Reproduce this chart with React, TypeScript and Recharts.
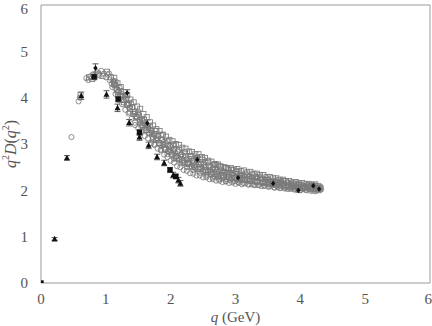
import React from 'react';
import { ScatterChart, Scatter, XAxis, YAxis, ErrorBar } from 'recharts';

const xTicks = [0, 1, 2, 3, 4, 5, 6];
const yTicks = [0, 1, 2, 3, 4, 5, 6];

// lattice data, open circles [q, q^2 D]
const openCircles: [number, number][] = [
  [0.47, 3.15], [0.58, 3.92], [0.6, 4.0], [0.73, 4.38], [0.76, 4.46], [0.8, 4.5], [0.86, 4.55], [0.9, 4.48],
  [0.93, 4.58], [0.97, 4.52], [1.0, 4.44], [1.03, 4.5], [1.06, 4.38], [1.09, 4.3], [1.12, 4.34], [1.15, 4.2],
  [1.18, 4.12], [1.21, 4.22], [1.24, 4.02], [1.27, 3.95], [1.3, 4.05], [1.33, 3.85], [1.36, 3.78], [1.39, 3.88],
  [1.45, 3.41], [1.45, 3.7], [1.48, 3.58], [1.51, 3.62], [1.54, 3.45], [1.57, 3.5], [1.6, 3.35], [1.63, 3.42],
  [1.66, 3.25], [1.69, 3.3], [1.72, 3.15], [1.75, 3.22], [1.78, 3.08], [1.81, 3.18], [1.84, 2.98], [1.87, 3.1],
  [1.9, 2.92], [1.93, 3.02], [1.96, 2.85], [1.99, 2.96], [2.02, 2.78], [2.05, 2.9], [2.08, 2.72], [2.11, 2.84],
  [2.14, 2.66], [2.17, 2.78], [2.2, 2.6], [2.23, 2.74], [2.26, 2.56], [2.29, 2.68], [2.32, 2.52], [2.35, 2.64],
  [2.38, 2.48], [2.41, 2.72], [2.44, 2.45], [2.47, 2.58], [2.5, 2.4], [2.53, 2.62], [2.56, 2.36], [2.59, 2.52],
  [2.62, 2.34], [2.65, 2.48], [2.68, 2.3], [2.71, 2.56], [2.74, 2.28], [2.77, 2.44], [2.8, 2.26], [2.83, 2.4],
  [2.86, 2.24], [2.89, 2.46], [2.92, 2.22], [2.95, 2.36], [2.98, 2.2], [3.01, 2.42], [3.04, 2.18], [3.08, 2.32],
  [3.12, 2.16], [3.16, 2.36], [3.2, 2.14], [3.24, 2.28], [3.28, 2.12], [3.32, 2.3], [3.36, 2.11], [3.4, 2.24],
  [3.44, 2.1], [3.48, 2.26], [3.52, 2.08], [3.56, 2.2], [3.6, 2.06], [3.64, 2.22], [3.68, 2.05], [3.72, 2.16],
  [3.76, 2.04], [3.8, 2.18], [3.84, 2.03], [3.88, 2.12], [3.92, 2.02], [3.96, 2.14], [4.0, 2.0], [4.04, 2.1],
  [4.08, 2.01], [4.12, 2.12], [4.16, 1.99], [4.2, 2.08], [4.24, 1.98], [4.28, 2.06], [4.32, 2.02],
];

const bandCircles: [number, number][] = [
  [1.1, 4.23], [1.11, 4.37], [1.15, 4.08], [1.16, 4.26], [1.2, 3.95], [1.19, 4.14], [1.25, 3.86], [1.26, 4.04],
  [1.3, 3.74], [1.31, 3.96], [1.35, 3.66], [1.34, 3.86], [1.4, 3.55], [1.41, 3.79], [1.45, 3.46], [1.44, 3.69],
  [1.5, 3.34], [1.51, 3.63], [1.55, 3.28], [1.56, 3.52], [1.6, 3.17], [1.59, 3.45], [1.65, 3.12], [1.66, 3.35],
  [1.7, 3.02], [1.71, 3.28], [1.75, 2.98], [1.74, 3.2], [1.8, 2.9], [1.81, 3.16], [1.85, 2.86], [1.86, 3.08],
  [1.9, 2.77], [1.89, 3.04], [1.95, 2.72], [1.96, 2.96], [2.0, 2.64], [2.01, 2.93], [2.05, 2.6], [2.04, 2.86],
  [2.1, 2.52], [2.11, 2.84], [2.15, 2.5], [2.16, 2.77], [2.2, 2.44], [2.19, 2.75], [2.25, 2.42], [2.26, 2.69],
  [2.3, 2.37], [2.31, 2.68], [2.35, 2.36], [2.34, 2.63], [2.4, 2.32], [2.41, 2.63], [2.45, 2.32], [2.46, 2.58],
  [2.5, 2.28], [2.51, 2.57], [2.55, 2.28], [2.54, 2.51], [2.6, 2.24], [2.61, 2.5], [2.65, 2.24], [2.66, 2.45],
  [2.7, 2.21], [2.71, 2.45], [2.75, 2.21], [2.74, 2.4], [2.8, 2.18], [2.81, 2.4], [2.85, 2.19], [2.86, 2.37],
  [2.9, 2.16], [2.91, 2.38], [2.95, 2.17], [2.94, 2.35], [3.0, 2.14], [3.01, 2.36], [3.05, 2.16], [3.06, 2.33],
  [3.1, 2.13], [3.11, 2.34], [3.15, 2.15], [3.14, 2.3], [3.2, 2.12], [3.21, 2.31], [3.25, 2.13], [3.26, 2.28],
  [3.3, 2.11], [3.31, 2.29], [3.35, 2.12], [3.34, 2.26], [3.4, 2.09], [3.41, 2.26], [3.45, 2.1], [3.46, 2.23],
  [3.5, 2.08], [3.51, 2.23], [3.55, 2.09], [3.54, 2.2], [3.6, 2.06], [3.61, 2.2], [3.65, 2.07], [3.66, 2.17],
  [3.7, 2.05], [3.71, 2.18], [3.75, 2.06], [3.74, 2.15], [3.8, 2.03], [3.81, 2.15], [3.85, 2.05], [3.86, 2.13],
  [3.9, 2.02], [3.91, 2.14], [3.95, 2.04], [3.94, 2.11], [4.0, 2.01], [4.01, 2.12], [4.05, 2.03], [4.06, 2.09],
  [4.1, 2.0], [4.11, 2.1], [4.15, 2.02], [4.14, 2.08], [4.2, 1.99], [4.21, 2.09], [4.25, 2.01], [4.26, 2.06],
  [4.3, 2.0], [4.31, 2.07],
];

const midCircles: [number, number][] = [
  [0.7, 4.42], [0.83, 4.43], [1.05, 4.52], [1.15, 4.35], [1.25, 4.08], [1.35, 3.88], [1.44, 3.65], [1.53, 3.52],
  [1.62, 3.38], [1.71, 3.22], [1.75, 3.0], [1.8, 3.12], [1.85, 2.88], [1.89, 3.0], [1.95, 2.78], [1.98, 2.9],
  [2.05, 2.68], [2.07, 2.82], [2.15, 2.58], [2.16, 2.72], [2.25, 2.5], [2.25, 2.66], [2.34, 2.58], [2.35, 2.44],
  [2.43, 2.56], [2.45, 2.38], [2.52, 2.5], [2.55, 2.32], [2.61, 2.44], [2.65, 2.28], [2.7, 2.4], [2.75, 2.24],
  [2.79, 2.38], [2.85, 2.2], [2.88, 2.34], [2.95, 2.26], [2.97, 2.32], [3.05, 2.22], [3.06, 2.28], [3.15, 2.24],
  [3.24, 2.2], [3.33, 2.26], [3.42, 2.16], [3.51, 2.14], [3.6, 2.12], [3.69, 2.18], [3.78, 2.08], [3.87, 2.06],
  [3.96, 2.06], [4.05, 2.04], [4.14, 2.06], [4.23, 2.03],
];

const openSquares: [number, number][] = [
  [0.61, 4.06], [0.74, 4.44], [0.79, 4.4], [0.88, 4.52], [0.95, 4.47], [1.02, 4.56], [1.08, 4.44], [1.14, 4.28],
  [1.19, 4.05], [1.23, 4.14], [1.28, 3.9], [1.32, 3.96], [1.37, 3.7], [1.41, 3.8], [1.46, 3.6], [1.5, 3.68],
  [1.55, 3.4], [1.59, 3.52], [1.64, 3.3], [1.68, 3.38], [1.73, 3.1], [1.77, 3.28], [1.82, 3.02], [1.86, 3.2],
  [1.91, 2.88], [1.95, 3.06], [2.0, 2.82], [2.04, 2.98], [2.09, 2.7], [2.13, 2.88], [2.18, 2.62], [2.22, 2.82],
  [2.27, 2.6], [2.31, 2.74], [2.36, 2.54], [2.4, 2.7], [2.45, 2.5], [2.49, 2.66], [2.54, 2.44], [2.58, 2.6],
  [2.63, 2.4], [2.67, 2.55], [2.72, 2.36], [2.76, 2.52], [2.81, 2.33], [2.85, 2.48], [2.9, 2.3], [2.94, 2.44],
  [2.99, 2.28], [3.03, 2.4], [3.1, 2.26], [3.14, 2.3], [3.21, 2.24], [3.26, 2.34], [3.33, 2.2], [3.38, 2.28],
  [3.45, 2.18], [3.5, 2.22], [3.57, 2.14], [3.62, 2.18], [3.69, 2.12], [3.74, 2.2], [3.81, 2.1], [3.86, 2.15],
  [3.93, 2.08], [3.98, 2.12], [4.05, 2.06], [4.1, 2.08], [4.17, 2.04], [4.22, 2.1], [4.27, 2.02], [4.31, 2.06],
];

const bandSquares: [number, number][] = [
  [1.125, 4.29], [1.13, 4.43], [1.175, 4.17], [1.18, 4.31], [1.225, 4.03], [1.23, 4.23], [1.275, 3.95], [1.28, 4.12],
  [1.325, 3.84], [1.33, 4.06], [1.375, 3.76], [1.38, 3.96], [1.425, 3.65], [1.43, 3.9], [1.475, 3.58], [1.48, 3.81],
  [1.525, 3.47], [1.53, 3.76], [1.575, 3.41], [1.58, 3.65], [1.625, 3.3], [1.63, 3.58], [1.675, 3.24], [1.68, 3.47],
  [1.725, 3.14], [1.73, 3.4], [1.775, 3.1], [1.78, 3.32], [1.825, 3.02], [1.83, 3.28], [1.875, 2.98], [1.88, 3.2],
  [1.925, 2.89], [1.93, 3.16], [1.975, 2.85], [1.98, 3.09], [2.025, 2.77], [2.03, 3.06], [2.075, 2.74], [2.08, 3.0],
  [2.125, 2.67], [2.13, 2.98], [2.175, 2.65], [2.18, 2.92], [2.225, 2.59], [2.23, 2.9], [2.275, 2.57], [2.28, 2.84],
  [2.325, 2.51], [2.33, 2.83], [2.375, 2.5], [2.38, 2.78], [2.425, 2.46], [2.43, 2.78], [2.475, 2.46], [2.48, 2.72],
  [2.525, 2.41], [2.53, 2.7], [2.575, 2.4], [2.58, 2.64], [2.625, 2.36], [2.63, 2.62], [2.675, 2.35], [2.68, 2.57],
  [2.725, 2.32], [2.73, 2.56], [2.775, 2.31], [2.78, 2.51], [2.825, 2.28], [2.83, 2.5], [2.875, 2.29], [2.88, 2.47],
  [2.925, 2.26], [2.93, 2.48], [2.975, 2.27], [2.98, 2.45], [3.025, 2.24], [3.03, 2.46], [3.075, 2.25], [3.08, 2.42],
  [3.125, 2.22], [3.13, 2.43], [3.175, 2.23], [3.18, 2.39], [3.225, 2.2], [3.23, 2.4], [3.275, 2.21], [3.28, 2.36],
  [3.325, 2.18], [3.33, 2.36], [3.375, 2.19], [3.38, 2.33], [3.425, 2.16], [3.43, 2.33], [3.475, 2.17], [3.48, 2.29],
  [3.525, 2.14], [3.53, 2.29], [3.575, 2.15], [3.58, 2.26], [3.625, 2.12], [3.63, 2.26], [3.675, 2.13], [3.68, 2.23],
  [3.725, 2.1], [3.73, 2.23], [3.775, 2.11], [3.78, 2.2], [3.825, 2.08], [3.83, 2.2], [3.875, 2.09], [3.88, 2.17],
  [3.925, 2.06], [3.93, 2.18], [3.975, 2.08], [3.98, 2.15], [4.025, 2.05], [4.03, 2.16], [4.075, 2.07], [4.08, 2.13],
  [4.125, 2.04], [4.13, 2.14], [4.175, 2.06], [4.18, 2.12], [4.225, 2.03], [4.23, 2.13], [4.275, 2.05], [4.28, 2.09],
];

// [q, value, error]
const filledTriangles: [number, number, number][] = [
  [0.21, 0.95, 0.03], [0.4, 2.7, 0.05], [0.62, 4.04, 0.08], [1.01, 4.07, 0.08], [1.18, 3.78, 0.08],
  [1.36, 3.46, 0.07], [1.52, 3.15, 0.07], [1.66, 2.97, 0.07], [1.79, 2.72, 0.06], [1.9, 2.59, 0.06],
  [2.04, 2.33, 0.06], [2.12, 2.22, 0.06], [2.15, 2.15, 0.06],
];

const filledSquares: [number, number, number][] = [
  [0.0, 0.0, 0.0], [0.82, 4.45, 0.06], [1.19, 3.97, 0.06], [1.52, 3.25, 0.06], [1.99, 2.44, 0.05], [2.08, 2.3, 0.05],
];

const filledDiamonds: [number, number, number][] = [
  [0.84, 4.64, 0.09], [1.33, 4.1, 0.07], [1.64, 3.45, 0.07], [2.41, 2.66, 0.05], [3.04, 2.27, 0.05],
  [3.58, 2.15, 0.04], [3.97, 2.0, 0.04], [4.2, 2.1, 0.04], [4.29, 2.03, 0.04],
];

const rows = (a: number[][]) => a.map(([q, v, e]) => ({ q, v, e: e ?? 0 }));

const GRAY = '#7a7a7a';
const AXIS = '#9a9a9a';
const TEXT = '#555555';
const FONT = '"Liberation Serif", "DejaVu Serif", "Noto Serif", serif';

const OpenCircle = (p: any) => (
  <circle cx={p.cx} cy={p.cy} r={2.6} fill="none" stroke={GRAY} strokeWidth={0.85} />
);
const OpenSquare = (p: any) => (
  <rect x={p.cx - 2.5} y={p.cy - 2.5} width={5} height={5} fill="none" stroke={GRAY} strokeWidth={0.85} />
);
const Triangle = (p: any) => (
  <polygon points={`${p.cx},${p.cy - 3.2} ${p.cx - 3},${p.cy + 2.4} ${p.cx + 3},${p.cy + 2.4}`} fill="#111" />
);
const FSquare = (p: any) => (
  <rect x={p.cx - 2.7} y={p.cy - 2.7} width={5.4} height={5.4} fill="#111" />
);
const Diamond = (p: any) => (
  <polygon points={`${p.cx},${p.cy - 2.8} ${p.cx + 2.2},${p.cy} ${p.cx},${p.cy + 2.8} ${p.cx - 2.2},${p.cy}`} fill="#111" />
);

const XLabel = (props: any) => {
  const vb = props.viewBox;
  return (
    <text x={vb.x + vb.width / 2} y={vb.y + vb.height - 4} textAnchor="middle" fill={TEXT} fontSize={15}
      style={{ fontFamily: FONT }}>
      <tspan fontStyle="italic">q</tspan>
      <tspan> (GeV)</tspan>
    </text>
  );
};

const YLabel = (props: any) => {
  const vb = props.viewBox;
  const x = 16;
  const y = vb.y + vb.height / 2;
  return (
    <text x={x} y={y} transform={`rotate(-90 ${x} ${y})`} textAnchor="middle" fill={TEXT} fontSize={16}
      style={{ fontFamily: FONT }}>
      <tspan fontStyle="italic">q</tspan>
      <tspan fontSize={10} dy={-7}>2</tspan>
      <tspan fontStyle="italic" dy={7}>D</tspan>
      <tspan>(</tspan>
      <tspan fontStyle="italic">q</tspan>
      <tspan fontSize={10} dy={-7}>2</tspan>
      <tspan dy={7}>)</tspan>
    </text>
  );
};

export default function App() {
  const tickStyle = { fill: TEXT, fontSize: 15, fontFamily: FONT, style: { fontFamily: FONT } };
  const series = [
    { data: openCircles, shape: OpenCircle },
    { data: bandCircles, shape: OpenCircle },
    { data: openSquares, shape: OpenSquare },
    { data: bandSquares, shape: OpenSquare },
    { data: midCircles, shape: OpenCircle },
  ];
  return (
    <div style={{ position: 'absolute', left: 0, top: 0, background: '#fff', fontFamily: FONT }}>
      <ScatterChart width={432} height={326} margin={{ top: 5, right: 2, left: 0, bottom: 0 }}>
        <XAxis xAxisId="b" type="number" dataKey="q" domain={[0, 6]} ticks={xTicks} height={43}
          axisLine={{ stroke: AXIS }} tickLine={false} tickSize={0} tickMargin={10} tick={tickStyle}
          label={<XLabel />} allowDataOverflow />
        <XAxis xAxisId="bm" type="number" orientation="bottom" mirror domain={[0, 6]} ticks={xTicks}
          axisLine={false} tickLine={{ stroke: AXIS }} tickSize={6} tick={false} allowDataOverflow />
        <XAxis xAxisId="t" type="number" orientation="top" mirror domain={[0, 6]} ticks={xTicks}
          axisLine={{ stroke: AXIS }} tickLine={{ stroke: AXIS }} tickSize={6} tick={false} allowDataOverflow />
        <YAxis yAxisId="l" type="number" dataKey="v" domain={[0, 6]} ticks={yTicks} width={41}
          axisLine={{ stroke: AXIS }} tickLine={false} tickSize={0} tickMargin={13} tick={tickStyle}
          label={<YLabel />} allowDataOverflow />
        <YAxis yAxisId="lm" type="number" orientation="left" mirror domain={[0, 6]} ticks={yTicks}
          axisLine={false} tickLine={{ stroke: AXIS }} tickSize={6} tick={false} allowDataOverflow />
        <YAxis yAxisId="r" type="number" orientation="right" mirror domain={[0, 6]} ticks={yTicks}
          axisLine={{ stroke: AXIS }} tickLine={{ stroke: AXIS }} tickSize={6} tick={false} allowDataOverflow />

        {series.map((s, i) => (
          <Scatter key={i} xAxisId="b" yAxisId="l" data={rows(s.data)} dataKey="v" shape={s.shape} isAnimationActive={false} />
        ))}
        <Scatter xAxisId="b" yAxisId="l" data={rows(filledTriangles)} dataKey="v" shape={Triangle} isAnimationActive={false}>
          <ErrorBar dataKey="e" direction="y" width={3} stroke="#333" strokeWidth={0.8} isAnimationActive={false} />
        </Scatter>
        <Scatter xAxisId="b" yAxisId="l" data={rows(filledSquares)} dataKey="v" shape={FSquare} isAnimationActive={false}>
          <ErrorBar dataKey="e" direction="y" width={3} stroke="#333" strokeWidth={0.8} isAnimationActive={false} />
        </Scatter>
        <Scatter xAxisId="b" yAxisId="l" data={rows(filledDiamonds)} dataKey="v" shape={Diamond} isAnimationActive={false}>
          <ErrorBar dataKey="e" direction="y" width={3} stroke="#333" strokeWidth={0.8} isAnimationActive={false} />
        </Scatter>
      </ScatterChart>
    </div>
  );
}
